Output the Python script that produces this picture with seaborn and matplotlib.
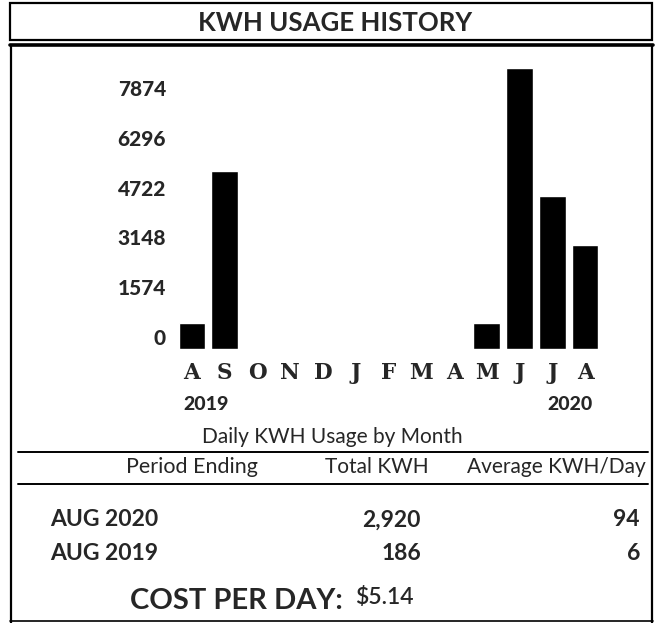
import matplotlib
matplotlib.use("Agg")
import matplotlib.pyplot as plt
import matplotlib.transforms as mtransforms
from matplotlib.patches import Rectangle
from matplotlib.lines import Line2D
import seaborn as sns
import pandas as pd

# ---------------- data ----------------
month_ids = ["2019-08", "2019-09", "2019-10", "2019-11", "2019-12", "2020-01",
             "2020-02", "2020-03", "2020-04", "2020-05", "2020-06", "2020-07", "2020-08"]
month_letters = ["A", "S", "O", "N", "D", "J", "F", "M", "A", "M", "J", "J", "A"]
usage = [825, 5650, 0, 0, 0, 0, 0, 0, 0, 825, 8918, 4855, 3300]
ytick_values = [0, 1574, 3148, 4722, 6296, 7874]
year_labels = ["2019", "2020"]
title = "KWH USAGE HISTORY"
subtitle = "Daily KWH Usage by Month"
table_headers = ["Period Ending", "Total KWH", "Average KWH/Day"]
periods = ["AUG 2020", "AUG 2019"]
total_kwh = ["2,920", "186"]
avg_kwh_day = ["94", "6"]
cost_label = "COST PER DAY:"
cost_value = "$5.14"

df = pd.DataFrame({"month": month_ids, "kwh": usage})

# ---------------- figure ----------------
sns.set_theme(style="white")
plt.rcParams["font.family"] = ["Lato", "DejaVu Sans"]

W, H = 659, 623
fig = plt.figure(figsize=(W / 100, H / 100), dpi=100)
fig.patch.set_facecolor("white")


def fx(x):
    return x / W


def fy(y):
    return 1 - y / H


# bar axes
ax_left, ax_right = 175.6, 601.4
ax_top, ax_bottom = 60, 349
ax = fig.add_axes([fx(ax_left), fy(ax_bottom), (ax_right - ax_left) / W, (ax_bottom - ax_top) / H])
ax.patch.set_alpha(0)
sns.barplot(data=df, x="month", y="kwh", color="black", saturation=1, width=0.82,
            ax=ax, errorbar=None)
ax.set_xlim(-0.5, 12.5)
ax.set_ylim(0, 9171)
for s in ax.spines.values():
    s.set_visible(False)
ax.set_xlabel("")
ax.set_ylabel("")
ax.set_yticks(ytick_values)
ax.set_yticklabels([str(v) for v in ytick_values], fontfamily="Lato",
                   fontweight="black", fontsize=15)
ax.set_xticks(range(len(month_ids)))
ax.set_xticklabels(month_letters, fontfamily="DejaVu Serif", fontweight="bold", fontsize=15.5)
ax.tick_params(axis="y", length=0, pad=7)
ax.tick_params(axis="x", length=0, pad=9)
offset = mtransforms.ScaledTranslation(0, 12.5 / 100, fig.dpi_scale_trans)
for lab in ax.get_yticklabels():
    lab.set_transform(lab.get_transform() + offset)
ax.grid(False)

# years
fig.text(fx(206), fy(404), year_labels[0], ha="center", va="center",
         fontweight="black", fontsize=14)
fig.text(fx(570), fy(404), year_labels[1], ha="center", va="center",
         fontweight="black", fontsize=14)

# title box
fig.add_artist(Rectangle((fx(10), fy(40)), fx(642), 37 / H, transform=fig.transFigure,
                         fill=False, edgecolor="black", linewidth=1.6))
fig.text(fx(335), fy(23), title, ha="center", va="center", fontweight="bold", fontsize=18.5)


# main box
def hline(y, x0, x1, lw):
    fig.add_artist(Line2D([fx(x0), fx(x1)], [fy(y), fy(y)], transform=fig.transFigure,
                          color="black", linewidth=lw))


def vline(x, y0, y1, lw):
    fig.add_artist(Line2D([fx(x), fx(x)], [fy(y0), fy(y1)], transform=fig.transFigure,
                          color="black", linewidth=lw))


hline(45, 10, 653, 2.6)
vline(11, 45, 623, 1.6)
vline(652, 45, 623, 1.6)
hline(621, 10, 653, 1.2)
hline(452, 18, 648, 1.4)
hline(484, 18, 648, 1.4)

fig.text(fx(332), fy(437), subtitle, ha="center", va="center", fontsize=15)

# table header
fig.text(fx(192), fy(467), table_headers[0], ha="center", va="center", fontsize=15.5)
fig.text(fx(377), fy(467), table_headers[1], ha="center", va="center", fontsize=15)
fig.text(fx(556), fy(467), table_headers[2], ha="center", va="center", fontsize=15)

# table rows
row_y = [520, 553]
for i in range(len(periods)):
    fig.text(fx(50), fy(row_y[i]), periods[i], ha="left", va="center",
             fontweight="bold", fontsize=16.5)
    fig.text(fx(421), fy(row_y[i]), total_kwh[i], ha="right", va="center",
             fontweight="bold", fontsize=16.5)
    fig.text(fx(640), fy(row_y[i]), avg_kwh_day[i], ha="right", va="center",
             fontweight="bold", fontsize=16.5)

fig.text(fx(130), fy(601), cost_label, ha="left", va="center", fontweight="bold", fontsize=21)
fig.text(fx(355), fy(598), cost_value, ha="left", va="center", fontweight="semibold", fontsize=16.5)

fig.savefig("out.png", dpi=100)
